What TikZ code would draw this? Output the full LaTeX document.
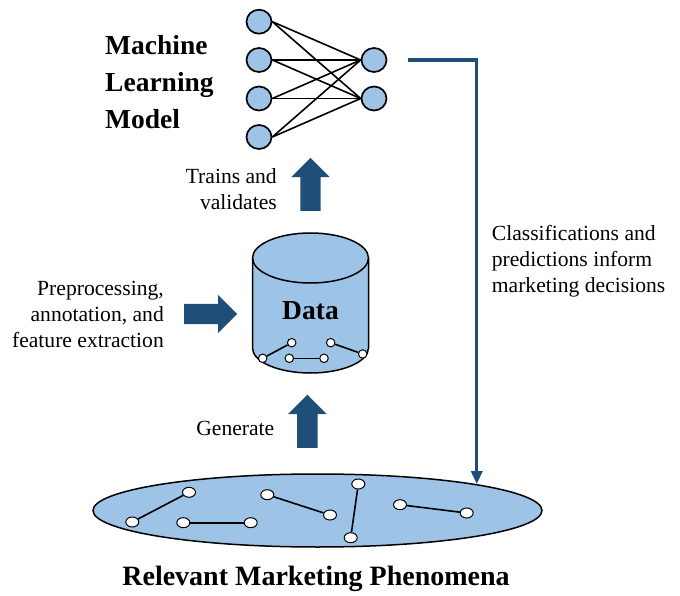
\documentclass[tikz,border=0pt]{standalone}
\usepackage{fontspec}
\setmainfont{Liberation Serif}
\usepackage{tikz}
\usetikzlibrary{shapes.geometric, shapes.arrows, arrows.meta, positioning}

\definecolor{nodeblue}{HTML}{9DC3E6}
\definecolor{arrowblue}{HTML}{1F4E79}

\begin{document}
\begin{tikzpicture}[x=1pt, y=-1pt,
    neuron/.style={draw, line width=1.7pt, fill=nodeblue, ellipse, minimum width=25pt, minimum height=24pt, inner sep=0pt},
    datadot/.style={draw, line width=1pt, fill=white, circle, minimum size=8.5pt, inner sep=0pt},
    phendot/.style={draw, line width=1pt, fill=white, ellipse, minimum width=13pt, minimum height=10pt, inner sep=0pt},
    link/.style={line width=1.6pt},
    fatarrow/.style={single arrow, fill=arrowblue, draw=none, inner xsep=0pt, inner ysep=10pt, single arrow head extend=9pt, minimum height=53pt, anchor=tail},
    note/.style={font=\fontsize{21.6}{26}\selectfont, inner sep=0pt},
    heading/.style={font=\fontsize{27.5}{36.7}\selectfont\bfseries, inner sep=0pt},
    arr/.style={-{Triangle[length=13pt, width=11pt]}, line width=3.2pt, arrowblue},
]
\useasboundingbox (0,0) rectangle (680,596);

% Machine learning model -- small network
\foreach \i/\y in {1/21.7, 2/60, 3/98.5, 4/137}
    \node[neuron] (in\i) at (259, \y) {};
\node[neuron] (out1) at (374, 60) {};
\node[neuron] (out2) at (374, 98.5) {};
\foreach \i in {1,...,4}
    \foreach \j in {1,2}
        \draw[link] (in\i.east) -- (out\j.west);
\node[heading, align=left, anchor=west] (model) at (105, 82) {Machine\\Learning\\Model};

% Data store (cylinder)
\draw[line width=1.5pt, fill=nodeblue] (252.5,258) -- (252.5,348)
    arc[start angle=180, end angle=360, x radius=58pt, y radius=25pt] -- (368.5,258)
    arc[start angle=0, end angle=180, x radius=58pt, y radius=25pt] -- cycle;
\draw[line width=1.5pt] (252.5,258) arc[start angle=180, end angle=360, x radius=58pt, y radius=25pt];
\node[heading] (data) at (310.5, 311) {Data};
\node[datadot] (d1) at (262.7, 358.3) {};
\node[datadot] (d2) at (291.7, 342.7) {};
\node[datadot] (d3) at (289.3, 358.3) {};
\node[datadot] (d4) at (324, 358.3) {};
\node[datadot] (d5) at (330.7, 342.7) {};
\node[datadot] (d6) at (362.7, 354) {};
\draw[link] (d1) -- (d2);
\draw[link] (d3) -- (d4);
\draw[link] (d5) -- (d6);

% Phenomena
\node[ellipse, draw, line width=1.5pt, fill=nodeblue, minimum width=449pt, minimum height=73pt, inner sep=0pt] (phen) at (317.5, 510.5) {};
\node[phendot] (p1) at (189, 492.3) {};
\node[phendot] (p2) at (132.3, 522) {};
\node[phendot] (p3) at (183.3, 522.7) {};
\node[phendot] (p4) at (250.7, 522.7) {};
\node[phendot] (p5) at (267.3, 494.7) {};
\node[phendot] (p6) at (330, 515) {};
\node[phendot] (p7) at (358.3, 484) {};
\node[phendot] (p8) at (350.7, 537.7) {};
\node[phendot] (p9) at (400, 504.7) {};
\node[phendot] (p10) at (466.7, 513) {};
\draw[link] (p1) -- (p2);
\draw[link] (p3) -- (p4);
\draw[link] (p5) -- (p6);
\draw[link] (p7) -- (p8);
\draw[link] (p9) -- (p10);
\node[heading, font=\fontsize{28}{34}\selectfont\bfseries] (phentitle) at (316, 579) {Relevant Marketing Phenomena};

% Block arrows and their notes
\node[fatarrow, rotate=90] (trainarr) at (310.5, 211) {};
\node[note, align=right, anchor=east] (trains) at (277, 189) {Trains and\\validates};
\node[fatarrow] (preparr) at (184, 314) {};
\node[note, align=right, anchor=east] (prep) at (164, 314) {Preprocessing,\\annotation, and\\feature extraction};
\node[fatarrow, rotate=90] (genarr) at (307.3, 448) {};
\node[note, anchor=east] (gen) at (274.5, 428) {Generate};

% Feedback to phenomena
\draw[arr] ([xshift=21pt]out1.east) -| (phen.north east);
\node[note, align=left, anchor=west] (classif) at (491.7, 261) {Classifications and\\predictions inform\\marketing decisions};

\end{tikzpicture}
\end{document}
